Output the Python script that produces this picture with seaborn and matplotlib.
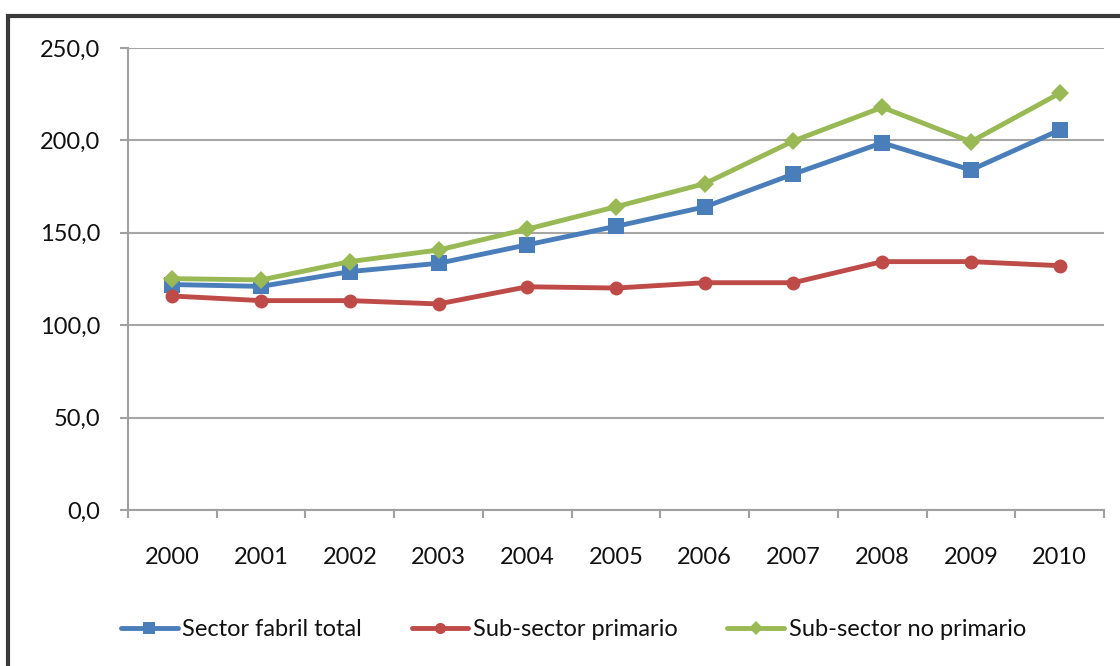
import numpy as np
import matplotlib.pyplot as plt
import pandas as pd
import seaborn as sns
from matplotlib.patches import Rectangle

# =========================
# DATA
# =========================
years = ['2000', '2001', '2002', '2003', '2004', '2005',
         '2006', '2007', '2008', '2009', '2010']
total = [122.0, 121.0, 129.0, 133.5, 143.5, 153.5, 164.0, 181.8, 198.7, 184.0, 205.6]
primario = [115.8, 113.3, 113.3, 111.5, 120.8, 120.1, 123.0, 123.0, 134.4, 134.4, 132.2]
no_primario = [125.2, 124.5, 134.4, 140.7, 152.0, 164.1, 176.6, 199.7, 217.9, 199.3, 225.5]

series_labels = ['Sector fabril total', 'Sub-sector primario', 'Sub-sector no primario']
colors = ['#4A7EBB', '#BE4B48', '#98B954']
markers = ['s', 'o', 'D']
marker_sizes = [11, 10, 9]

df = pd.DataFrame({'year': years * 3,
                   'value': total + primario + no_primario,
                   'serie': np.repeat(series_labels, len(years))})

# =========================
# PLOTTING SETUP
# =========================
sns.set_style('white')
plt.rcParams['font.family'] = ['Lato', 'DejaVu Sans']

fig = plt.figure(figsize=(11.2, 6.66), dpi=100)
ax = fig.add_axes([128 / 1120, 1 - 510 / 666, (1104 - 128) / 1120, (510 - 48) / 666])

# outer frame of the picture
fig.patches.append(Rectangle((8 / 1120, -0.02), 1.05, 1 - 16 / 666 + 0.02,
                             transform=fig.transFigure, fill=False,
                             edgecolor='#3a3a3a', linewidth=3, zorder=0))

for lab, col, mk, ms in zip(series_labels, colors, markers, marker_sizes):
    sub = df[df['serie'] == lab]
    sns.lineplot(data=sub, x='year', y='value', ax=ax, color=col, linewidth=3.5,
                 marker=mk, markersize=ms, markeredgewidth=0, label=lab, sort=False)

ax.set_ylim(0, 250)
ax.set_xlim(-0.5, len(years) - 0.5)
ax.set_yticks(np.arange(0, 251, 50))
ax.set_yticklabels([f'{v:.1f}'.replace('.', ',') for v in np.arange(0, 251, 50)])
ax.set_xticks(range(len(years)))
ax.set_xticklabels(years)
ax.set_xticks(np.arange(-0.5, len(years), 1), minor=True)
ax.set_xlabel('')
ax.set_ylabel('')

ax.grid(axis='y', color='#a6a6a6', linewidth=1.5)
ax.set_axisbelow(True)
for s in ['top', 'right']:
    ax.spines[s].set_visible(False)
for s in ['left', 'bottom']:
    ax.spines[s].set_color('#a0a0a0')
    ax.spines[s].set_linewidth(1.5)

ax.tick_params(axis='y', which='major', left=True, length=6, width=1.5,
               color='#a0a0a0', pad=14, labelsize=17, labelcolor='#111111')
ax.tick_params(axis='x', which='major', bottom=False, pad=23,
               labelsize=17, labelcolor='#111111')
ax.tick_params(axis='x', which='minor', bottom=True, length=6, width=1.5,
               color='#a0a0a0')

ax.get_legend().remove()
handles, labels = ax.get_legend_handles_labels()
fig.legend(handles, labels, loc='center', bbox_to_anchor=(0.512, 1 - 630 / 666),
           ncol=3, frameon=False, fontsize=17, handlelength=2.4,
           handletextpad=0.2, columnspacing=2.1, markerscale=0.8,
           labelcolor='#111111')

plt.savefig('out.png', dpi=100)
